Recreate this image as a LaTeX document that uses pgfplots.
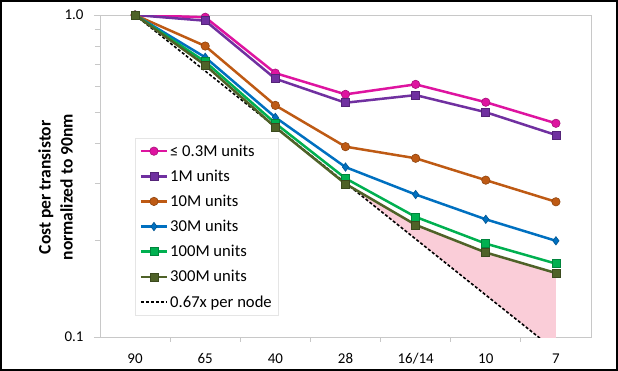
\documentclass[border=0pt]{standalone}
\usepackage{pgfplots}
\pgfplotsset{compat=1.18}
\usepackage{fontspec}
\setmainfont{Carlito}
\definecolor{cpink}{RGB}{222,20,160}
\definecolor{cpurple}{RGB}{112,48,160}
\definecolor{corange}{RGB}{190,90,20}
\definecolor{cblue}{RGB}{0,112,192}
\definecolor{cgreen}{RGB}{0,176,80}
\definecolor{colive}{RGB}{79,98,40}
\definecolor{cfill}{RGB}{250,205,216}
\definecolor{axgray}{RGB}{200,200,200}
\begin{document}
\begin{tikzpicture}
\begin{axis}[
  name=ax,
  width=491bp, height=322bp, scale only axis,
  xmin=-0.5, xmax=6.5,
  ymode=log, ymin=0.1, ymax=1,
  xtick={0,1,2,3,4,5,6},
  xticklabels={90,65,40,28,16/14,10,7},
  major x tick style={draw=none},
  minor xtick={0.5,1.5,2.5,3.5,4.5,5.5},
  ytick={0.1,1}, yticklabels={0.1,1.0},
  tick align=outside, tick pos=left,
  minor tick length=5bp, major tick length=6bp,
  axis line style={axgray, line width=0.8bp},
  every tick/.style={axgray, line width=0.8bp},
  ticklabel style={font=\fontsize{15}{18}\selectfont},
  xticklabel style={yshift=-7bp},
  yticklabel style={xshift=-7bp},
  /pgf/number format/assume math mode=true,
  ylabel={Cost per transistor\\normalized to 90nm},
  ylabel style={font=\bfseries\fontsize{17.6}{22}\selectfont, align=center,
    at={(rel axis cs:-0.0906,0.465)}, anchor=center},
  legend style={at={(rel axis cs:0.0713,0.618)}, anchor=north west,
    draw=gray!20, fill=white, font=\fontsize{16.7}{19}\selectfont,
    row sep=8.2bp, inner sep=4.5bp, cells={anchor=west}},
  legend image code/.code={\draw[mark repeat=2,mark phase=2] plot coordinates {(0bp,0bp) (13bp,0bp) (26bp,0bp)};},
  every axis plot/.append style={line width=2.5bp},
]
% shaded gap between the 300M units curve and the 0.67x trend
\addplot[fill=cfill, draw=none, forget plot] coordinates {
  (3,0.299) (4,0.223) (5,0.183) (6,0.158) (6,0.0905) (5,0.135) (4,0.2015) (3,0.301)} -- cycle;
% 0.67x per node trend
\addplot[black, line width=1.6bp, dash pattern=on 3bp off 2bp, forget plot] coordinates {
  (0,1) (1,0.67) (2,0.449) (3,0.301) (4,0.2015) (5,0.135) (6,0.0905)};

\addplot[cpink, mark=*, mark size=4.2bp, mark options={fill=cpink, draw=cpink!75!black, line width=0.6bp, solid}] coordinates {
  (0,1.0) (1,0.984) (2,0.660) (3,0.567) (4,0.609) (5,0.536) (6,0.461)};
\addlegendentry{≤ 0.3M units}
\addplot[cpurple, mark=square*, mark size=4bp, mark options={fill=cpurple, draw=cpurple!75!black, line width=0.6bp}] coordinates {
  (0,1.0) (1,0.960) (2,0.634) (3,0.534) (4,0.564) (5,0.499) (6,0.424)};
\addlegendentry{1M units}
\addplot[corange, mark=*, mark size=4.2bp, mark options={fill=corange, draw=corange!75!black, line width=0.6bp}] coordinates {
  (0,1.0) (1,0.801) (2,0.524) (3,0.390) (4,0.359) (5,0.307) (6,0.263)};
\addlegendentry{10M units}
\addplot[cblue, mark=diamond*, mark size=4.2bp, mark options={fill=cblue, draw=cblue!75!black, line width=0.6bp}] coordinates {
  (0,1.0) (1,0.739) (2,0.481) (3,0.337) (4,0.277) (5,0.232) (6,0.199)};
\addlegendentry{30M units}
\addplot[cgreen, mark=square*, mark size=4bp, mark options={fill=cgreen, draw=cgreen!75!black, line width=0.6bp}] coordinates {
  (0,1.0) (1,0.716) (2,0.461) (3,0.311) (4,0.236) (5,0.195) (6,0.169)};
\addlegendentry{100M units}
\addplot[colive, mark=square*, mark size=4bp, mark options={fill=colive, draw=colive!75!black, line width=0.6bp}] coordinates {
  (0,1.0) (1,0.699) (2,0.448) (3,0.299) (4,0.223) (5,0.183) (6,0.158)};
\addlegendentry{300M units}
\addlegendimage{black, line width=1.6bp, dash pattern=on 3bp off 2bp}
\addlegendentry{0.67x per node}
\end{axis}
\draw[black, line width=2.5bp] ([shift={(-98.75bp,-32.75bp)}]ax.south west) rectangle ([shift={(25.75bp,13.75bp)}]ax.north east);
\end{tikzpicture}
\end{document}
